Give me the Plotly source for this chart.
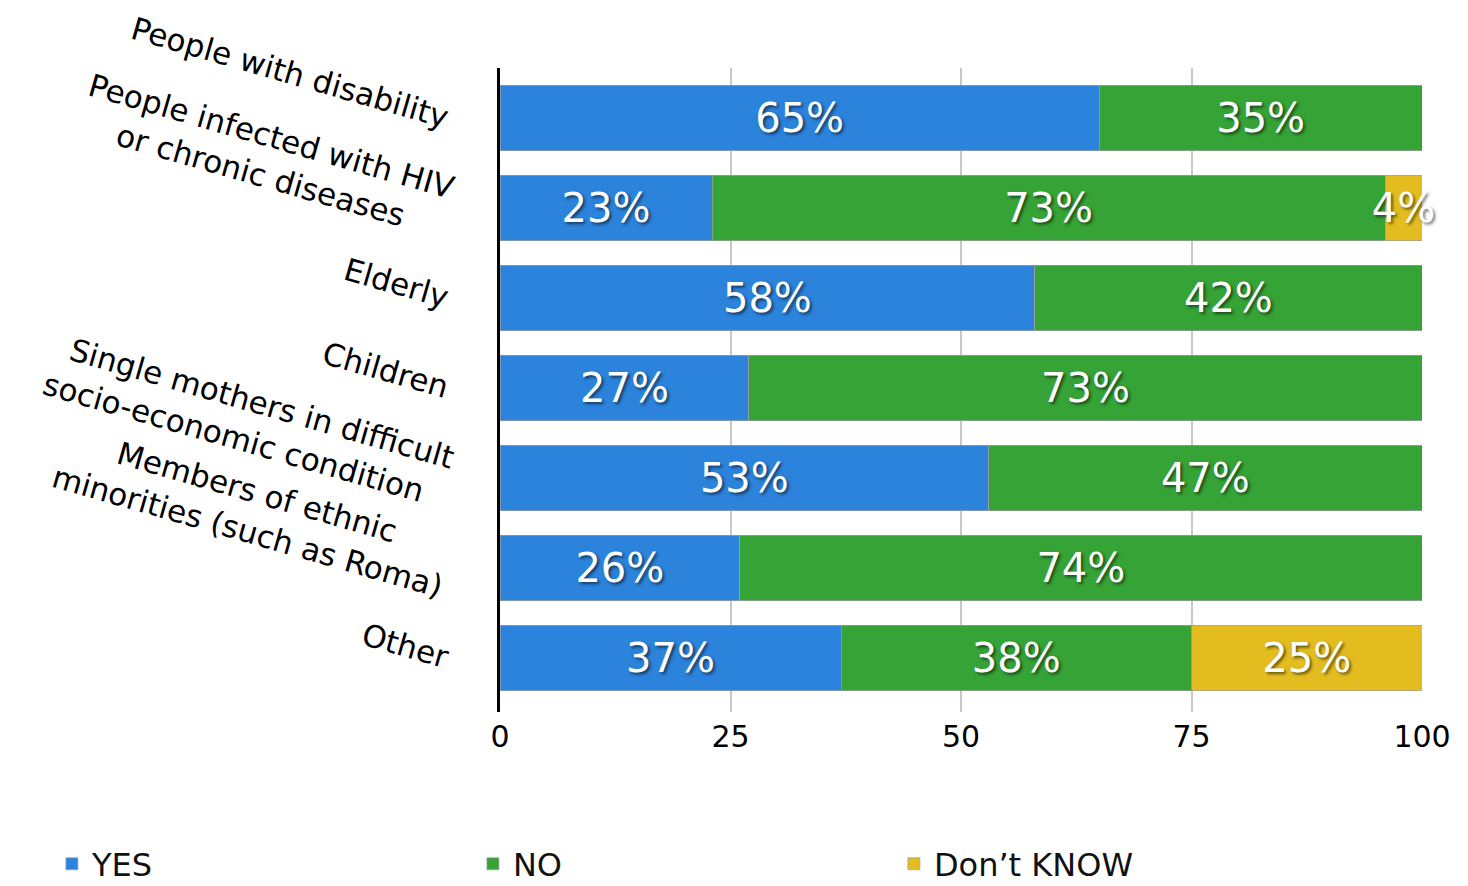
import plotly.graph_objects as go

categories = [
    "People with disability",
    "People infected with HIV<br>or chronic diseases",
    "Elderly",
    "Children",
    "Single mothers in difficult<br>socio-economic condition",
    "Members of ethnic<br>minorities (such as Roma)",
    "Other",
]
yes_vals = [65, 23, 58, 27, 53, 26, 37]
no_vals = [35, 73, 42, 73, 47, 74, 38]
dk_vals = [0, 4, 0, 0, 0, 0, 25]
x_ticks = [0, 25, 50, 75, 100]

series = [
    ("YES", yes_vals, "#2b83dc"),
    ("NO", no_vals, "#36a336"),
    ("Don’t KNOW", dk_vals, "#e3bd1f"),
]

FONT = "DejaVu Sans, Verdana, sans-serif"


def center_lines(label):
    # pad shorter lines with no-break spaces so multi-line tick labels look centred
    lines = label.split("<br>")
    m = max(len(l) for l in lines)
    return "<br>".join(l + "\u00a0" * round(0.73 * (m - len(l))) for l in lines)


fig = go.Figure()
for name, vals, color in series:
    fig.add_trace(go.Bar(
        y=categories, x=vals, name=name, orientation="h",
        marker=dict(color=color, line=dict(color="rgba(160,160,160,0.7)", width=1)),
        text=[f"{v}%" if v > 0 else "" for v in vals],
        textposition="inside", insidetextanchor="middle",
        textangle=0, constraintext="none", cliponaxis=False,
        textfont=dict(family=FONT, size=40, color="white",
                      shadow="2px 2px 3px rgba(0,0,0,0.55)"),
        hoverinfo="skip",
    ))

# page body has an 8px margin, so the figure is 8px smaller than the window
fig.update_layout(
    barmode="stack",
    bargap=0.27,
    width=1460, height=878,
    margin=dict(l=492, r=46, t=60, b=174, autoexpand=False),
    paper_bgcolor="white", plot_bgcolor="white",
    showlegend=True,
    legend=dict(
        orientation="h", x=-0.486, xanchor="left", y=-0.236, yanchor="middle",
        entrywidth=376, entrywidthmode="pixels",
        font=dict(family=FONT, size=32, color="#111"),
        traceorder="normal",
    ),
    font=dict(family=FONT, color="black"),
)
fig.update_xaxes(
    range=[0, 100], tickvals=x_ticks, ticktext=[str(t) for t in x_ticks],
    showgrid=True, gridcolor="#c8c8c8", gridwidth=1.5,
    zeroline=False, showline=False, automargin=False,
    ticklabelstandoff=4,
    tickfont=dict(family=FONT, size=30, color="black"),
)
fig.update_yaxes(
    type="category", categoryorder="array", categoryarray=categories,
    tickvals=categories, ticktext=[center_lines(c) for c in categories],
    range=[6.6, -0.556], automargin=False,
    showline=True, linecolor="black", linewidth=3,
    showgrid=False, zeroline=False,
    tickangle=16, ticklabelstandoff=42,
    tickfont=dict(family=FONT, size=31, color="black"),
)

fig.write_html("out.html")
